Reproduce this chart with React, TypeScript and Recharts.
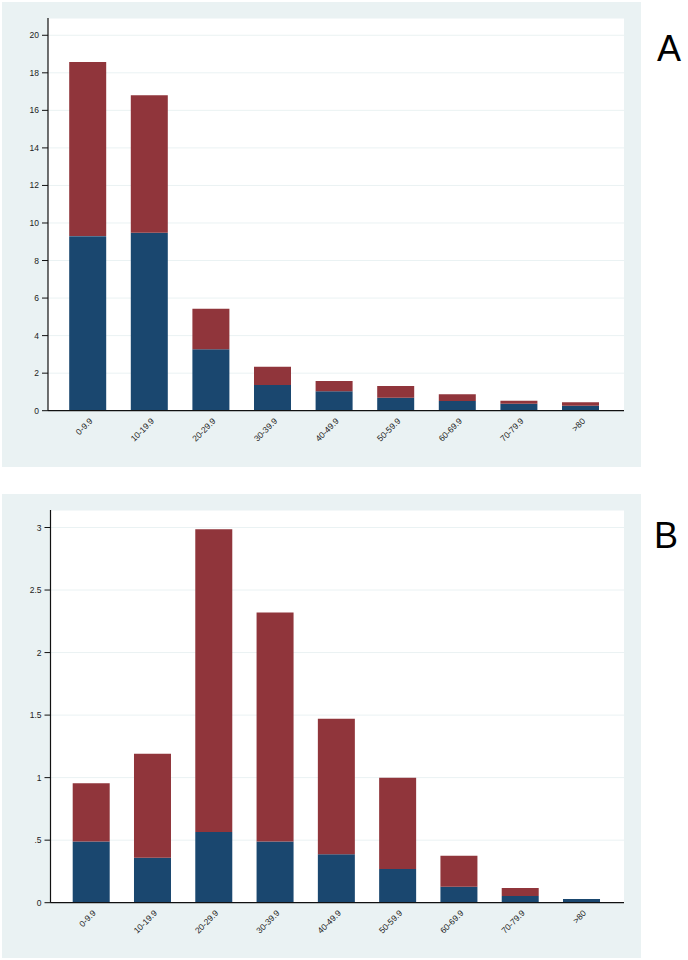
import React from 'react';
import { BarChart, Bar, XAxis, YAxis, CartesianGrid } from 'recharts';

const categories = ['0-9.9', '10-19.9', '20-29.9', '30-39.9', '40-49.9', '50-59.9', '60-69.9', '70-79.9', '>80'];

// panel A
const aBlue = [9.3, 9.48, 3.27, 1.37, 1.03, 0.69, 0.52, 0.37, 0.27];
const aRed = [9.28, 7.32, 2.16, 0.97, 0.55, 0.62, 0.35, 0.16, 0.18];
const aTicks = [0, 2, 4, 6, 8, 10, 12, 14, 16, 18, 20];

// panel B
const bBlue = [0.49, 0.36, 0.566, 0.49, 0.387, 0.27, 0.128, 0.054, 0.03];
const bRed = [0.465, 0.83, 2.42, 1.83, 1.083, 0.73, 0.248, 0.064, 0];
const bTicks = [0, 0.5, 1, 1.5, 2, 2.5, 3];

const BLUE = '#1A476F';
const RED = '#90353B';
const BG = '#EAF2F3';
const FONT = '"Liberation Sans", Arial, Helvetica, sans-serif';

const XTick = (props: any) => {
  const { x, y, payload } = props;
  return (
    <g transform={`translate(${x + 5},${y + 11})`}>
      <text x={0} y={0} textAnchor="end" transform="rotate(-45)" fontSize={8.5} fill="#222" fontFamily={FONT}>
        {payload.value}
      </text>
    </g>
  );
};

const fmtB = (v: number) => (v === 0 ? '0' : String(v).replace(/^0\./, '.'));

interface PanelProps {
  top: number;
  height: number;
  blue: number[];
  red: number[];
  ticks: number[];
  domainMax: number;
  yWidth: number;
  padL: number;
  padR: number;
  fmt?: (v: number) => string;
}

const Panel: React.FC<PanelProps> = ({ top, height, blue, red, ticks, domainMax, yWidth, padL, padR, fmt }) => {
  const data = categories.map((c, i) => ({ name: c, blue: blue[i], red: red[i] }));
  return (
    <div style={{ position: 'absolute', left: 2, top, width: 639, height, background: BG }}>
      <BarChart
        width={639}
        height={height}
        data={data}
        margin={{ top: 16, right: 17, bottom: height - 16 - 392.7 - 50, left: 46 - yWidth + (yWidth === 42 ? 2.5 : 0) }}
      >
        <CartesianGrid fill="#fff" stroke={BG} vertical={false} />
        <XAxis
          dataKey="name"
          tickLine={false}
          tickSize={0}
          tickMargin={0}
          height={50}
          interval={0}
          padding={{ left: padL, right: padR }}
          axisLine={{ stroke: '#111', strokeWidth: 1.2 }}
          tick={<XTick />}
        />
        <YAxis
          type="number"
          domain={[0, domainMax]}
          ticks={ticks}
          width={yWidth}
          allowDataOverflow
          tickSize={6}
          tickMargin={3}
          tickFormatter={fmt}
          axisLine={{ stroke: '#111', strokeWidth: 1.2 }}
          tickLine={{ stroke: '#111', strokeWidth: 1 }}
          tick={{ fontSize: 8.5, fill: '#222', fontFamily: FONT }}
        />
        <Bar dataKey="blue" stackId="s" fill={BLUE} barSize={37} isAnimationActive={false} />
        <Bar dataKey="red" stackId="s" fill={RED} barSize={37} isAnimationActive={false} />
      </BarChart>
    </div>
  );
};

const Letter = ({ text, left, top }: { text: string; left: number; top: number }) => (
  <div style={{ position: 'absolute', left, top, fontFamily: FONT, fontSize: 36, lineHeight: '36px', color: '#000' }}>
    {text}
  </div>
);

export default function App() {
  return (
    <div style={{ position: 'absolute', left: 0, top: 0, width: 688, height: 960, background: '#fff', overflow: 'hidden' }}>
      <Panel top={2} height={465} blue={aBlue} red={aRed} ticks={aTicks} domainMax={20.92} yWidth={40} padL={9.2} padR={12.4} />
      <Panel top={494} height={464} blue={bBlue} red={bRed} ticks={bTicks} domainMax={3.14} yWidth={42} padL={10.2} padR={11.7} fmt={fmtB} />
      <Letter text="A" left={657} top={31} />
      <Letter text="B" left={654} top={518} />
    </div>
  );
}
